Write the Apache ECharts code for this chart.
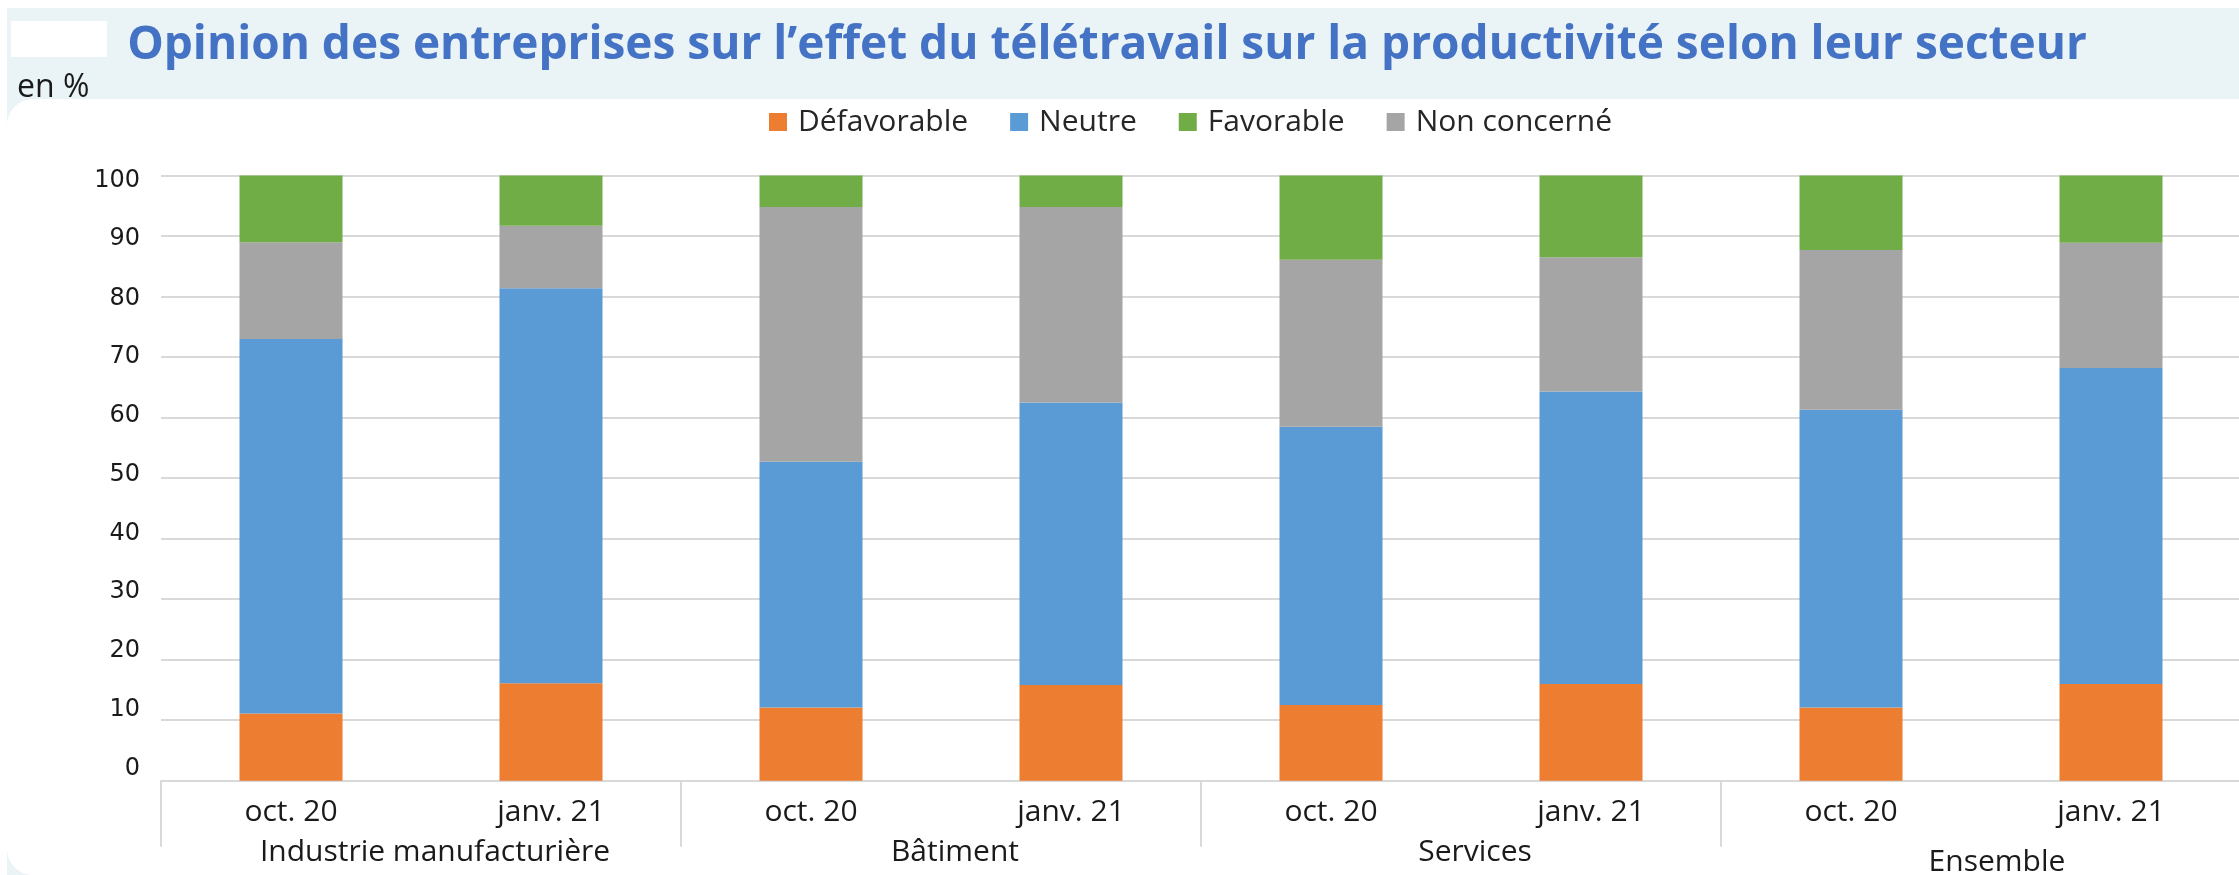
<!DOCTYPE html>
<html>
<head>
<meta charset="utf-8">
<script src="https://cdn.jsdelivr.net/npm/echarts@6/dist/echarts.min.js"></script>
<style>
html,body{margin:0;padding:0;background:#fff;}
#c{width:2239px;height:875px;}
</style>
</head>
<body>
<div id="c"></div>
<script>
const periods = ['oct. 20','janv. 21','oct. 20','janv. 21','oct. 20','janv. 21','oct. 20','janv. 21'];
const sectors = ['Industrie manufacturière','Bâtiment','Services','Ensemble'];
const yTicks = [0,10,20,30,40,50,60,70,80,90,100];
const defavorable = [11.1, 16.1, 12.1, 15.8, 12.5, 16.0, 12.1, 16.0];
const neutre      = [61.9, 65.3, 40.6, 46.7, 46.0, 48.3, 49.2, 52.2];
const nonConcerne = [16.0, 10.3, 42.1, 32.3, 27.6, 22.2, 26.4, 20.7];
const favorable   = [11.0,  8.3,  5.2,  5.2, 13.9, 13.5, 12.3, 11.1];
const title = 'Opinion des entreprises sur l’effet du télétravail sur la productivité selon leur secteur';
const unit = 'en %';

const chart = echarts.init(document.getElementById('c'));
const txt = '#1a1a1a';
const grid = '#d9d9d9';

// y labels in the reference sit slightly off their gridlines (lower ones a bit higher)
const yRich = {};
yTicks.forEach(v => {
  const off = Math.round(-12 + 0.17 * v);
  yRich['s' + v] = {fontFamily:'DejaVu Sans', fontSize:24, color:txt,
    padding: off < 0 ? [0,0,-2*off,0] : [2*off,0,0,0]};
});

chart.setOption({
  animation: false,
  backgroundColor: '#ffffff',
  graphic: [
    {type:'rect', z:-10, shape:{x:7,y:8,width:2240,height:870}, style:{fill:'#EAF3F5'}},
    {type:'rect', z:-9, shape:{x:7,y:99,width:2260,height:776,r:[26,0,0,26]}, style:{fill:'#ffffff'}},
    {type:'rect', z:-8, shape:{x:11,y:21,width:96,height:36}, style:{fill:'#ffffff'}},
    {type:'group', x:1107, y:46, scaleX:1.0, children:[
      {type:'text', style:{text:title, x:0, y:0, align:'center', verticalAlign:'middle',
        font:'bold 46px "Open Sans"', fill:'#4472C4'}}
    ]},
    {type:'text', x:17, y:88, style:{text:unit, verticalAlign:'middle', font:'32px "Open Sans"', fill:txt}}
  ],
  legend: {
    left: 764, top: 102,
    icon: 'rect', itemWidth: 18, itemHeight: 18, itemGap: 42,
    textStyle: {fontFamily:'Open Sans', fontSize:30, color:'#262626', padding:[0,0,0,6]},
    data: ['Défavorable','Neutre','Favorable','Non concerné']
  },
  grid: {left:161, width:2080, top:175.6, bottom:94.3, containLabel:false, outerBoundsMode:'none'},
  xAxis: [
    {type:'category', data:periods, position:'bottom',
      axisLine:{show:true, lineStyle:{color:grid, width:2}},
      axisTick:{show:false},
      axisLabel:{fontFamily:'Open Sans', fontSize:30, color:txt, margin:17, interval:0},
      splitLine:{show:false}},
    {type:'category', data:sectors, position:'bottom',
      axisLine:{show:false},
      axisTick:{show:true, length:66, interval:0, lineStyle:{color:grid, width:2}},
      axisLabel:{interval:0, margin:57,
        formatter:(v,i)=> i===3 ? '{b|'+v+'}' : '{a|'+v+'}',
        rich:{
          a:{fontFamily:'Open Sans', fontSize:30, color:txt, padding:[0,0,0,28]},
          b:{fontFamily:'Open Sans', fontSize:30, color:txt, padding:[10,0,0,32]}
        }},
      splitLine:{show:false}}
  ],
  yAxis: {type:'value', min:yTicks[0], max:yTicks[yTicks.length-1], interval:10,
    axisLine:{show:false}, axisTick:{show:false},
    axisLabel:{margin:21, formatter: v => '{s' + v + '|' + v + '}', rich: yRich},
    splitLine:{lineStyle:{color:grid, width:2}}},
  series: [
    {name:'Défavorable', type:'bar', stack:'s', data:defavorable, barWidth:103, itemStyle:{color:'#ED7D31'}},
    {name:'Neutre', type:'bar', stack:'s', data:neutre, barWidth:103, itemStyle:{color:'#5B9BD5'}},
    {name:'Non concerné', type:'bar', stack:'s', data:nonConcerne, barWidth:103, itemStyle:{color:'#A5A5A5'}},
    {name:'Favorable', type:'bar', stack:'s', data:favorable, barWidth:103, itemStyle:{color:'#70AD47'}}
  ]
});
</script>
</body>
</html>
